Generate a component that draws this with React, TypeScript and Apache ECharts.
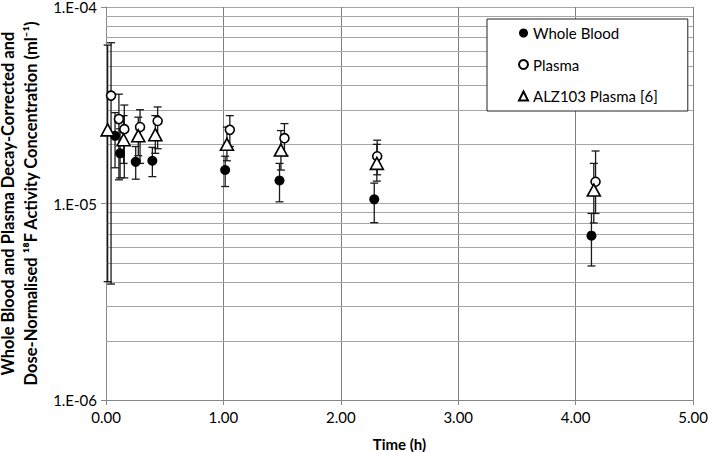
import React, { useEffect, useRef } from "react";
import * as echarts from "echarts";

// Whole blood (filled circles)
const wbTime = [0.077, 0.12, 0.253, 0.395, 1.015, 1.478, 2.285, 4.135];
const wbValue = [2.21e-5, 1.8e-5, 1.63e-5, 1.65e-5, 1.48e-5, 1.31e-5, 1.05e-5, 6.86e-6];
const wbLow = [1.52e-5, 1.35e-5, 1.33e-5, 1.37e-5, 1.22e-5, 1.02e-5, 7.99e-6, 4.81e-6];
const wbHigh = [2.9e-5, 2.4e-5, 1.95e-5, 1.93e-5, 1.74e-5, 1.6e-5, 1.27e-5, 8.9e-6];

// Plasma (open circles)
const plTime = [0.043, 0.11, 0.156, 0.29, 0.44, 1.055, 1.52, 2.31, 4.17];
const plValue = [3.54e-5, 2.69e-5, 2.39e-5, 2.45e-5, 2.63e-5, 2.37e-5, 2.15e-5, 1.74e-5, 1.29e-5];
const plLow = [3.89e-6, 1.32e-5, 1.35e-5, 1.6e-5, 1.9e-5, 1.95e-5, 1.75e-5, 1.4e-5, 8.9e-6];
const plHigh = [6.58e-5, 3.6e-5, 3.17e-5, 3.0e-5, 3.1e-5, 2.8e-5, 2.55e-5, 2.1e-5, 1.85e-5];

// ALZ103 Plasma [6] (open triangles)
const alzTime = [0.014, 0.15, 0.275, 0.42, 1.03, 1.49, 2.307, 4.155];
const alzValue = [2.37e-5, 2.11e-5, 2.21e-5, 2.24e-5, 2.0e-5, 1.87e-5, 1.6e-5, 1.17e-5];
const alzLow = [4.0e-6, 1.6e-5, 1.75e-5, 1.8e-5, 1.65e-5, 1.48e-5, 1.3e-5, 7.96e-6];
const alzHigh = [6.4e-5, 2.8e-5, 2.75e-5, 2.8e-5, 2.45e-5, 2.35e-5, 2.0e-5, 1.6e-5];

// Minor horizontal gridlines (2..9 of each decade)
const minorGrid = [
  2e-6, 3e-6, 4e-6, 5e-6, 6e-6, 7e-6, 8e-6, 9e-6,
  2e-5, 3e-5, 4e-5, 5e-5, 6e-5, 7e-5, 8e-5, 9e-5,
];

const FONT = "Lato, 'Noto Sans', sans-serif";

function errorSeries(t: number[], lo: number[], hi: number[]) {
  return {
    type: "custom",
    z: 3,
    silent: true,
    data: t.map((x, i) => [x, lo[i], hi[i]]),
    encode: { x: 0, y: [1, 2] },
    renderItem: (_params: any, api: any) => {
      const x = api.value(0);
      const pLo = api.coord([x, api.value(1)]);
      const pHi = api.coord([x, api.value(2)]);
      const w = 4;
      const style = { stroke: "#1a1a1a", lineWidth: 1.3 };
      return {
        type: "group",
        children: [
          { type: "line", shape: { x1: pLo[0], y1: pLo[1], x2: pHi[0], y2: pHi[1] }, style },
          { type: "line", shape: { x1: pLo[0] - w, y1: pLo[1], x2: pLo[0] + w, y2: pLo[1] }, style },
          { type: "line", shape: { x1: pHi[0] - w, y1: pHi[1], x2: pHi[0] + w, y2: pHi[1] }, style },
        ],
      };
    },
  };
}

export default function App() {
  const ref = useRef<HTMLDivElement>(null);
  useEffect(() => {
    if (!ref.current) return;
    const chart = echarts.init(ref.current, null, { renderer: "svg" });
    chart.setOption({
      animation: false,
      backgroundColor: "#ffffff",
      textStyle: { fontFamily: FONT },
      grid: { left: 106, top: 7, width: 587, height: 393, outerBoundsMode: "none", containLabel: false },
      legend: {
        orient: "vertical",
        left: 487,
        top: 19,
        padding: [5, 30, 6, 31],
        itemWidth: 9,
        itemHeight: 9,
        itemGap: 13.5,
        backgroundColor: "#ffffff",
        borderColor: "#222",
        borderWidth: 1,
        textStyle: { fontFamily: FONT, fontSize: 15, color: "#000", lineHeight: 18 },
        data: ["Whole Blood", "Plasma", "ALZ103 Plasma [6]"],
      },
      xAxis: {
        type: "value",
        min: 0,
        max: 5,
        interval: 1,
        name: "Time (h)",
        nameLocation: "middle",
        nameGap: 36,
        nameTextStyle: { fontFamily: FONT, fontSize: 15, fontWeight: "bold", color: "#000" },
        axisLine: { show: true, lineStyle: { color: "#888", width: 1 } },
        axisTick: { show: true, length: 5, lineStyle: { color: "#888" } },
        axisLabel: {
          fontFamily: FONT,
          fontSize: 15,
          color: "#000",
          margin: 9,
          formatter: (v: number) => v.toFixed(2),
        },
        splitLine: { show: true, lineStyle: { color: "#808080", width: 1 } },
      },
      yAxis: {
        type: "log",
        logBase: 10,
        min: 1e-6,
        max: 1e-4,
        name: "Whole Blood and Plasma Decay-Corrected and\nDose-Normalised ¹⁸F Activity Concentration (ml⁻¹)",
        nameLocation: "middle",
        nameGap: 59,
        nameTextStyle: {
          fontFamily: FONT,
          fontSize: 16.5,
          fontWeight: "bold",
          color: "#000",
          lineHeight: 23,
        },
        axisLine: { show: true, lineStyle: { color: "#888", width: 1 } },
        axisTick: { show: true, length: 5, lineStyle: { color: "#888" } },
        axisLabel: {
          fontFamily: FONT,
          fontSize: 15,
          lineHeight: 15,
          color: "#000",
          margin: 9,
          formatter: (v: number) => {
            const e = Math.round(Math.log10(v));
            const s = Math.abs(e).toString().padStart(2, "0");
            return "1.E" + (e < 0 ? "-" : "+") + s;
          },
        },
        splitLine: { show: true, lineStyle: { color: "#a6a6a6", width: 1 } },
      },
      series: [
        {
          type: "custom",
          z: 1,
          silent: true,
          data: minorGrid.map((v) => [0, v]),
          encode: { x: 0, y: 1 },
          renderItem: (params: any, api: any) => {
            const cs = params.coordSys;
            const y = Math.round(api.coord([0, api.value(1)])[1]) + 0.5;
            return {
              type: "line",
              shape: { x1: cs.x, y1: y, x2: cs.x + cs.width, y2: y },
              style: { stroke: "#a6a6a6", lineWidth: 1 },
            };
          },
        },
        errorSeries(wbTime, wbLow, wbHigh),
        errorSeries(plTime, plLow, plHigh),
        errorSeries(alzTime, alzLow, alzHigh),
        {
          name: "Whole Blood",
          type: "scatter",
          z: 5,
          symbol: "circle",
          symbolSize: 10,
          itemStyle: { color: "#000", opacity: 1 },
          data: wbTime.map((t, i) => [t, wbValue[i]]),
        },
        {
          name: "Plasma",
          type: "scatter",
          z: 6,
          symbol: "circle",
          symbolSize: 9,
          itemStyle: { color: "#fff", borderColor: "#000", borderWidth: 1.6, opacity: 1 },
          data: plTime.map((t, i) => [t, plValue[i]]),
        },
        {
          name: "ALZ103 Plasma [6]",
          type: "scatter",
          z: 6,
          symbol: "triangle",
          symbolSize: [13, 12],
          itemStyle: { color: "#fff", borderColor: "#000", borderWidth: 1.6, opacity: 1 },
          data: alzTime.map((t, i) => [t, alzValue[i]]),
        },
      ],
    });
    return () => chart.dispose();
  }, []);
  return <div ref={ref} style={{ width: 708, height: 452, position: "absolute", left: 0, top: 0 }} />;
}
